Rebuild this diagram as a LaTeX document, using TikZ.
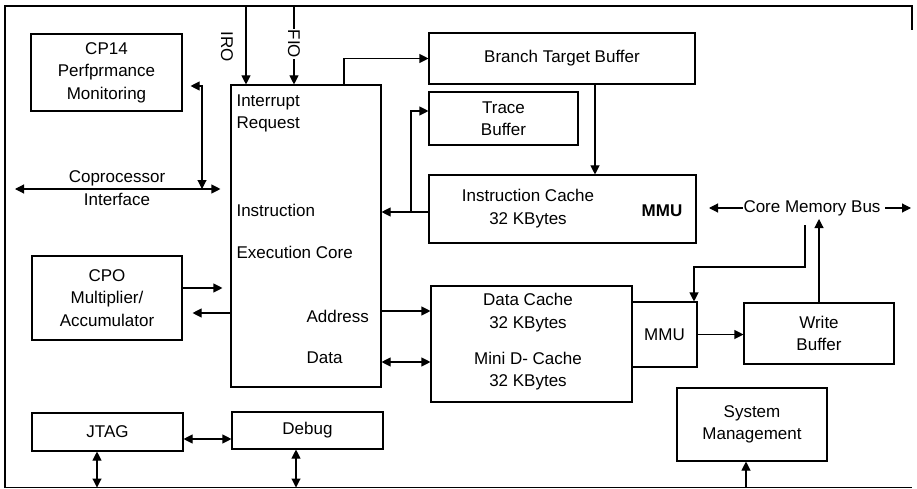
\documentclass[tikz,border=0pt]{standalone}
\usepackage{fontspec}
\setmainfont{Liberation Sans}
\usetikzlibrary{arrows.meta}
\begin{document}
\begin{tikzpicture}[x=1pt,y=-1pt,
  font=\fontsize{17}{22.5}\selectfont,
  line width=1.1pt,
  box/.style={draw, inner sep=0pt, align=center},
  txt/.style={inner sep=1pt, align=center},
  arr/.style={-{Triangle[length=9pt,width=9pt]}},
  dbl/.style={{Triangle[length=9pt,width=9pt]}-{Triangle[length=9pt,width=9pt]}}]
\useasboundingbox (0,0) rectangle (917,489);
% frame
\coordinate (ftl) at (5,6);
\coordinate (ftr) at (912,6);
\coordinate (frs) at (912,30);
\coordinate (fbl) at (5,487.5);
\coordinate (fbr) at (912,487.5);
\draw (fbl) -- (ftl) -- (ftr) -- (frs);
\draw (fbl) -- (fbr);
% boxes
\node[box, minimum width=151pt, minimum height=77pt] (cp14) at (106.5,72.5) {CP14\\Perfprmance\\Monitoring};
\node[box, minimum width=150pt, minimum height=302pt] (core) at (306,236) {};
\node[box, minimum width=266pt, minimum height=51pt] (btb) at (562,58.5) {Branch Target Buffer};
\node[box, minimum width=149pt, minimum height=53pt] (trace) at (503.5,118.5) {Trace\\Buffer};
\node[box, minimum width=267pt, minimum height=68pt] (ic) at (562.5,209) {};
\node[txt] (ictxt) at (528,208.5) {Instruction Cache\\32 KBytes};
\node[txt, font=\fontsize{17}{22.5}\selectfont\bfseries] (icmmu) at (662,211) {MMU};
\node[box, minimum width=150pt, minimum height=84pt] (cpo) at (107,298) {CPO\\Multiplier/\\Accumulator};
\node[box, minimum width=201pt, minimum height=116pt] (dc) at (531.5,344) {};
\node[txt] (dctxt) at (528,312.5) {Data Cache\\32 KBytes};
\node[txt] (minitxt) at (528,371) {Mini D- Cache\\32 KBytes};
\node[box, minimum width=65pt, minimum height=65pt] (mmu) at (664.5,334.5) {MMU};
\node[box, minimum width=150pt, minimum height=61pt] (wb) at (819,333.5) {Write\\Buffer};
\node[box, minimum width=150pt, minimum height=73pt] (sm) at (752,424.5) {System\\Management};
\node[box, minimum width=151pt, minimum height=38pt] (jtag) at (107.5,432) {JTAG};
\node[box, minimum width=151pt, minimum height=37pt] (debug) at (307.5,430.5) {Debug};
% core texts
\node[txt, anchor=west, align=left] (intreq) at (235,113.5) {Interrupt\\Request};
\node[txt, anchor=west] (instr) at (235,210) {Instruction};
\node[txt, anchor=west] (exec) at (235,252) {Execution Core};
\node[txt, anchor=west] (addr) at (305,316) {Address};
\node[txt, anchor=west] (data) at (305,358) {Data};
% IRQ / FIQ
\coordinate (irqtop) at (246,6);
\coordinate (fiqtop) at (294,6);
\draw[arr] (irqtop) -- (irqtop |- core.north);
\draw[arr] (fiqtop) -- (fiqtop |- core.north);
\node[txt, rotate=-90] (irqlbl) at (227,47) {IRO};
\node[txt, rotate=-90, fill=white, inner sep=0.5pt] (fiqlbl) at (294,44) {FIO};
% core -> BTB
\coordinate (cbx) at (344,0);
\draw[arr] (core.north -| cbx) |- (btb.west);
% BTB -> IC
\coordinate (bix) at (595,0);
\draw[arr] (btb.south -| bix) -- (ic.north -| bix);
% IC -> core, branch to trace
\coordinate (icy) at (0,212);
\coordinate (tbx) at (411,0);
\coordinate (tby) at (0,111);
\draw[arr] (ic.west |- icy) -- (core.east |- icy);
\draw[arr] (tbx |- icy) |- (trace.west |- tby);
% core memory bus
\node[txt, inner sep=0pt] (cmb) at (812,208) {Core Memory Bus};
\coordinate (cmbl) at (709,208);
\coordinate (cmbr) at (911,208);
\draw[arr] (cmb.west) -- (cmbl);
\draw[arr] ([xshift=4pt]cmb.east) -- (cmbr);
\coordinate (cmbdn) at (805,225);
\coordinate (cmbjog) at (694,267);
\draw[arr] (cmbdn) |- (cmbjog) -- (cmbjog |- mmu.north);
\coordinate (cmbup) at (819,219);
\draw[arr] (wb.north) -- (cmbup);
% MMU -> write buffer
\draw[arr] (mmu.east) -- (wb.west |- mmu.east);
% address / data
\coordinate (ya) at (0,311);
\coordinate (yd) at (0,362);
\draw[arr] (core.east |- ya) -- (dc.west |- ya);
\draw[dbl] (core.east |- yd) -- (dc.west |- yd);
% CPO
\coordinate (yc1) at (0,288);
\coordinate (yc2) at (0,313);
\draw[arr, shorten >=8pt] (cpo.east |- yc1) -- (core.west |- yc1);
\draw[arr, shorten >=10pt] (core.west |- yc2) -- (cpo.east |- yc2);
% coprocessor interface
\coordinate (copl) at (15,189);
\draw[dbl, shorten >=10pt] (copl) -- (core.west |- copl);
\node[txt] (coptxt) at (117,188) {Coprocessor\\Interface};
\coordinate (cpk) at (202,86);
\draw[dbl, shorten <=8pt] (cp14.east |- cpk) -- (cpk) -- (cpk |- copl);
% JTAG / Debug
\coordinate (yjd) at (0,439);
\draw[dbl] (jtag.east |- yjd) -- (debug.west |- yjd);
\coordinate (jx) at (97,0);
\coordinate (dx) at (296,0);
\draw[dbl] (jtag.south -| jx) -- (fbl -| jx);
\draw[dbl] (debug.south -| dx) -- (fbl -| dx);
% system management
\coordinate (smx) at (746,0);
\draw[arr] (fbl -| smx) -- (sm.south -| smx);
\end{tikzpicture}
\end{document}
